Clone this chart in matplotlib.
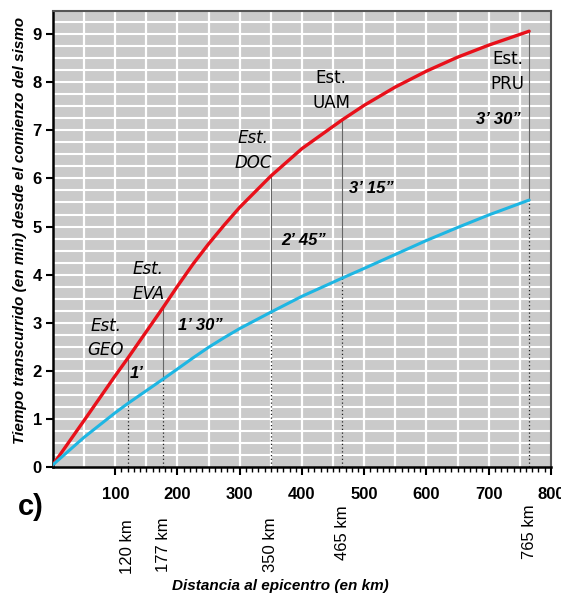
import numpy as np
import matplotlib
matplotlib.use("Agg")
import matplotlib.pyplot as plt

# ---- data ----
dist_km = [0, 50, 100, 120, 177, 200, 225, 250, 275, 300, 350, 400, 465, 500, 550, 600, 650, 700, 765]
s_wave_min = [0.05, 0.97, 1.9, 2.26, 3.32, 3.76, 4.22, 4.64, 5.03, 5.4, 6.05, 6.62, 7.22,
              7.52, 7.9, 8.23, 8.52, 8.77, 9.06]
p_wave_min = [0.05, 0.62, 1.13, 1.32, 1.83, 2.04, 2.27, 2.49, 2.69, 2.88, 3.22, 3.55, 3.93,
              4.13, 4.42, 4.71, 4.98, 5.24, 5.55]

stations = ["GEO", "EVA", "DOC", "UAM", "PRU"]
station_dist = [120, 177, 350, 465, 765]
station_s = [2.26, 3.32, 6.05, 7.22, 9.06]
station_p = [1.32, 1.83, 3.22, 3.93, 5.55]
delays = ["1\u2019", "1\u2019 30\u201d", "2\u2019 45\u201d", "3\u2019 15\u201d", "3\u2019 30\u201d"]

x_tick_labels = [100, 200, 300, 400, 500, 600, 700, 800]
y_tick_labels = [0, 1, 2, 3, 4, 5, 6, 7, 8, 9]

# ---- layout / style (not data) ----
station_italic = [True, True, True, False, False]
station_label_pos = [(85, 2.68), (153, 3.86), (322, 6.58), (447, 7.83), (730, 8.22)]
delay_label_pos = [(135, 1.95), (237, 2.95), (403, 4.7), (511, 5.8), (716, 7.23)]
dist_label_top = [0.128, 0.130, 0.130, 0.150, 0.153]

fig = plt.figure(figsize=(5.61, 5.95), dpi=100)
ax = fig.add_axes([0.0945, 0.215, 0.8875, 0.7665])
ax.set_facecolor("#cacaca")
ax.set_xlim(0, 800)
ax.set_ylim(0, 9.48)

for xv in np.arange(50, 800, 50):
    ax.axvline(xv, color="white", lw=1.6, zorder=1)
for yv in np.arange(0.25, 9.5, 0.25):
    ax.axhline(yv, color="white", lw=1.5, zorder=1)

# vertical station lines
for d, s, p in zip(station_dist, station_s, station_p):
    ax.plot([d, d], [0, p], color="#222222", lw=0.9, ls=(0, (1, 2)), zorder=2)
    ax.plot([d, d], [p, s], color="#666666", lw=0.8, zorder=2)

ax.plot(dist_km, s_wave_min, color="#e8101a", lw=2.4, zorder=3,
        solid_capstyle="round", solid_joinstyle="round")
ax.plot(dist_km, p_wave_min, color="#1eb6e3", lw=2.2, zorder=3,
        solid_capstyle="round", solid_joinstyle="round")

for name, (x, y), it in zip(stations, station_label_pos, station_italic):
    ax.text(x, y, "Est.\n" + name, fontsize=12, family="DejaVu Sans",
            style="italic" if it else "normal", ha="center", va="center",
            linespacing=1.45, zorder=4)

for lab, (x, y) in zip(delays, delay_label_pos):
    ax.text(x, y, lab, fontsize=12, family="Liberation Sans", weight="bold",
            style="italic", ha="center", va="center", zorder=4)

# ticks
ax.set_xticks(x_tick_labels)
ax.set_xticklabels([str(v) for v in x_tick_labels], fontsize=12,
                   family="Liberation Sans", weight="bold")
ax.set_xticks(np.arange(100, 801, 10), minor=True)
ax.tick_params(axis="x", which="major", length=6, width=1.5, direction="out", pad=8)
ax.tick_params(axis="x", which="minor", length=3.5, width=1.0, direction="out")
ax.set_yticks(y_tick_labels)
ax.set_yticklabels([str(v) for v in y_tick_labels], fontsize=12,
                   family="Liberation Sans", weight="bold")
ax.tick_params(axis="y", which="major", length=5, width=1.5, direction="out", pad=3)

for side in ["left", "bottom"]:
    ax.spines[side].set_color("black")
    ax.spines[side].set_linewidth(1.8)
for side in ["top", "right"]:
    ax.spines[side].set_color("#555555")
    ax.spines[side].set_linewidth(1.5)

# distance labels below axis
for d, top in zip(station_dist, dist_label_top):
    xf = ax.transData.transform((d, 0))[0] / fig.bbox.width
    fig.text(xf, top, f"{d} km", rotation=90, fontsize=12,
             family="Liberation Sans", ha="center", va="top")

fig.text(0.055, 0.148, "c)", fontsize=21, weight="bold", family="Liberation Sans",
         ha="center", va="center")

fig.text(0.036, 0.613, "Tiempo transcurrido (en min) desde el comienzo del sismo",
         rotation=90, fontsize=11, weight="bold", style="italic",
         family="Liberation Sans", ha="center", va="center")
fig.text(0.5, 0.003, "Distancia al epicentro (en km)", fontsize=11, weight="bold",
         style="italic", family="Liberation Sans", ha="center", va="bottom")

fig.savefig("out.png", dpi=100)
